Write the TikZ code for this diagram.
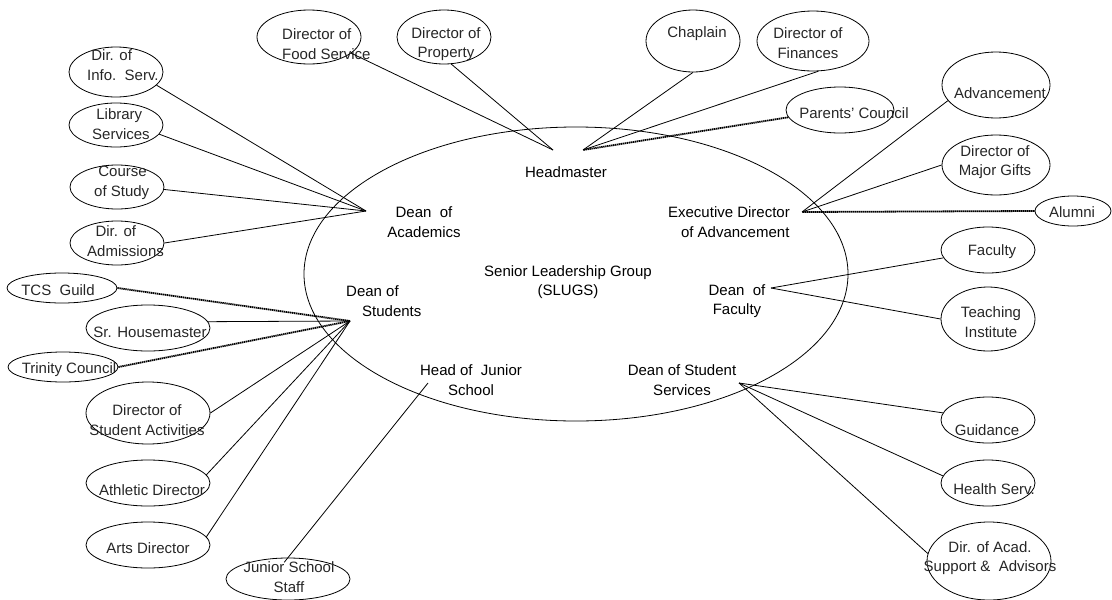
\documentclass[tikz,border=0pt]{standalone}
\usepackage{fontspec}
\setmainfont{Liberation Sans}
\usetikzlibrary{shapes.geometric}
\begin{document}
\begin{tikzpicture}[x=1pt,y=-1pt,
  every node/.style={font=\fontsize{15}{19.5}\selectfont},
  sat/.style={ellipse, draw, line width=0.8pt, inner sep=0pt},
  stxt/.style={align=center, text=black!85, inner sep=0pt},
  ltxt/.style={align=left, text=black!85, inner sep=0pt, anchor=west},
  itxt/.style={align=center, text=black, inner sep=0pt},
  link/.style={line width=0.8pt},
  dotlink/.style={line width=1.8pt, dash pattern=on 1.4pt off 0.6pt}]
\useasboundingbox (0,0) rectangle (1112,600);

% central group
\node[sat, minimum width=544, minimum height=294] (slg) at (576,274) {};
\node[itxt] (slgt) at (568,282) {Senior Leadership Group\\(SLUGS)};

% inner roles
\node[itxt] (head) at (566,172) {Headmaster};
\node[itxt] (dacad) at (424,222) {Dean\ \ of\\Academics};
\node[itxt] (exec) at (729,222) {Executive Director\\\ \ \ of Advancement};
\node[itxt, align=left, anchor=west] (dstud) at (346,301) {Dean of\\\hspace*{16pt}Students};
\node[itxt] (dfac) at (737,301) {Dean\ \ of\\Faculty};
\node[itxt] (hjs) at (471,380) {Head of\ \ Junior\\School};
\node[itxt] (dss) at (682,380) {Dean of Student\\Services};

% hubs where the connectors meet
\coordinate (hubHL) at (553,150);
\coordinate (hubHR) at (583,150);
\coordinate (hubDA) at (366,211);
\coordinate (hubEX) at (802,212);
\coordinate (hubDS) at (350,321);
\coordinate (hubDF) at (771,288);
\coordinate (hubHJ) at (428,383);
\coordinate (hubDSS) at (739,383);

% top satellites
\node[sat, minimum width=104, minimum height=54] (food) at (309,37) {};
\node[ltxt] (foodt) at (282,44) {Director of\\Food Service};
\node[sat, minimum width=94, minimum height=54] (prop) at (444,37) {};
\node[stxt] (propt) at (446,44) {Director of\\Property};
\node[sat, minimum width=94, minimum height=62] (chap) at (693,41) {};
\node[stxt] (chapt) at (697,34) {Chaplain};
\node[sat, minimum width=112, minimum height=60] (fin) at (813,41) {};
\node[stxt] (fint) at (808,43) {Director of\\Finances};
\node[sat, minimum width=108, minimum height=46] (par) at (840,110) {};
\node[stxt] (part) at (854,113) {Parents' Council};

% right satellites
\node[sat, minimum width=108, minimum height=66] (adv) at (996,85) {};
\node[stxt] (advt) at (1000,93) {Advancement};
\node[sat, minimum width=108, minimum height=60] (gifts) at (996,165) {};
\node[stxt] (giftst) at (995,162) {Director of\\Major Gifts};
\node[sat, minimum width=76, minimum height=30] (alum) at (1073,211) {};
\node[stxt] (alumt) at (1072,212) {Alumni};
\node[sat, minimum width=94, minimum height=46] (fac) at (988,250) {};
\node[stxt] (fact) at (992,252) {Faculty};
\node[sat, minimum width=94, minimum height=64] (teach) at (988,319) {};
\node[stxt] (teacht) at (991,322) {Teaching\\Institute};
\node[sat, minimum width=94, minimum height=46] (guid) at (988,420) {};
\node[stxt] (guidt) at (987,430) {Guidance};
\node[sat, minimum width=94, minimum height=46] (hlth) at (988,483) {};
\node[stxt] (hlths) at (994,489) {Health Serv.};
\node[sat, minimum width=124, minimum height=78] (acad) at (989,561) {};
\node[stxt] (acadt) at (990,558) {Dir. of Acad.\\Support \&\ \ Advisors};

% left satellites
\node[sat, minimum width=94, minimum height=50] (info) at (116,72) {};
\node[ltxt] (infot) at (87,65) {\ Dir. of\\Info.\ \ Serv.};
\node[sat, minimum width=94, minimum height=44] (lib) at (116,125) {};
\node[ltxt] (libt) at (92,124) {\ Library\\Services};
\node[sat, minimum width=94, minimum height=44] (course) at (117,187) {};
\node[ltxt] (courset) at (94,183) {\ Course\\of Study};
\node[sat, minimum width=94, minimum height=44] (adm) at (117,243) {};
\node[ltxt] (admt) at (87,241) {\ \ Dir. of\\Admissions};
\node[sat, minimum width=110, minimum height=30] (tcs) at (62,288) {};
\node[stxt] (tcst) at (58,290) {TCS\ \ Guild};
\node[sat, minimum width=124, minimum height=46] (hm) at (148,328) {};
\node[stxt] (hmt) at (150,332) {Sr. Housemaster};
\node[sat, minimum width=110, minimum height=30] (trin) at (63,367) {};
\node[stxt] (trint) at (69,370) {Trinity Council};
\node[sat, minimum width=124, minimum height=62] (act) at (148,413) {};
\node[stxt] (actt) at (147,420) {Director of\\Student Activities};
\node[sat, minimum width=124, minimum height=46] (ath) at (148,483) {};
\node[stxt] (atht) at (152,490) {Athletic Director};
\node[sat, minimum width=124, minimum height=46] (arts) at (148,545) {};
\node[stxt] (artst) at (148,548) {Arts Director};
\node[sat, minimum width=124, minimum height=42] (jss) at (288,579) {};
\node[stxt] (jsst) at (289,577) {Junior School\\Staff};

% Headmaster
\draw[link] (food.-21) -- (hubHL);
\draw[link] (prop.-75) -- (hubHL);
\draw[link] (chap.south) -- (hubHR);
\draw[link] (fin.-80) -- (hubHR);
\draw[dotlink] (par.188) -- (hubHR);

% Executive Director of Advancement
\draw[link] (adv.198) -- (hubEX);
\draw[link] (gifts.west) -- (hubEX);
\draw[dotlink] (alum.west) -- (hubEX);

% Dean of Faculty
\draw[link] (fac.190) -- (hubDF);
\draw[link] (teach.west) -- (hubDF);

% Dean of Student Services
\draw[link] (guid.171) -- (hubDSS);
\draw[link] (hlth.171) -- (hubDSS);
\draw[link] (acad.173) -- (hubDSS);

% Dean of Academics
\draw[link] (info.-18) -- (hubDA);
\draw[link] (lib.-12) -- (hubDA);
\draw[link] (course.-3) -- (hubDA);
\draw[link] (adm.east) -- (hubDA);

% Dean of Students
\draw[dotlink] (tcs.east) -- (hubDS);
\draw[link] (hm.6) -- (hubDS);
\draw[dotlink] (trin.east) -- (hubDS);
\draw[link] (act.east) -- (hubDS);
\draw[link] (ath.8) -- (hubDS);
\draw[link] (arts.8) -- (hubDS);

% Head of Junior School
\draw[link, shorten >=-6pt] (hubHJ) -- (jss.north);
\end{tikzpicture}
\end{document}
